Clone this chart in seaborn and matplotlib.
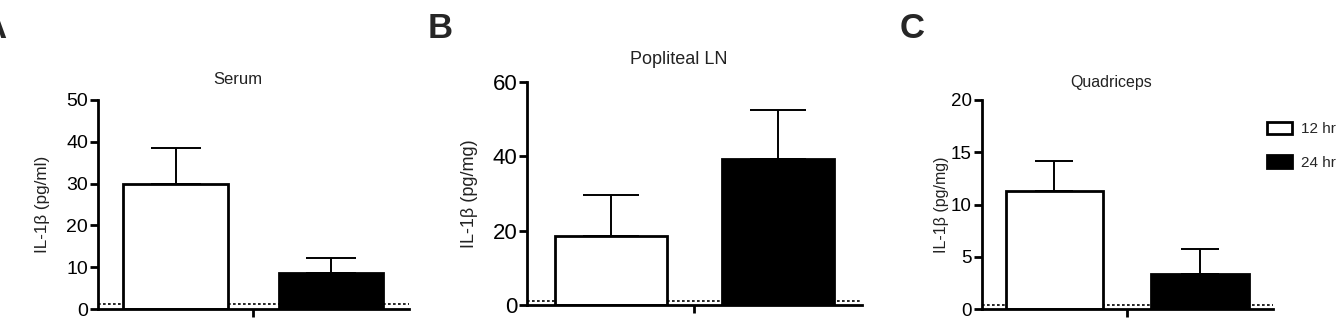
import matplotlib
matplotlib.use("Agg")
import matplotlib.pyplot as plt
from matplotlib.patches import Patch
import seaborn as sns
import pandas as pd

# ---- data ----
times = ["12 hr", "24 hr"]
panel_letters = ["A", "B", "C"]
titles = ["Serum", "Popliteal LN", "Quadriceps"]
ylabels = ["IL-1β (pg/ml)", "IL-1β (pg/mg)", "IL-1β (pg/mg)"]
serum_mean = [29.8, 8.7]
serum_sem = [8.7, 3.4]
pln_mean = [18.6, 39.3]
pln_sem = [11.0, 13.0]
quad_mean = [11.3, 3.4]
quad_sem = [2.9, 2.4]
lod = [1.1, 1.1, 0.4]          # dotted detection-limit lines
ymax = [50, 60, 20]
ystep = [10, 20, 5]

means = [serum_mean, pln_mean, quad_mean]
sems = [serum_sem, pln_sem, quad_sem]

sns.set_theme(style="ticks")
plt.rcParams["font.family"] = ["Liberation Sans", "DejaVu Sans"]

W, H = 1344, 321
fig = plt.figure(figsize=(W / 100, H / 100), dpi=100)

# axes rectangles in pixels: left, right, top(ymax), bottom(0)
rects = [(97.7, 409, 100, 309), (527, 861.7, 81.7, 305), (981.7, 1272.7, 100, 309.3)]
tick_fs = [14, 16, 13.5]
title_fs = [12, 13, 11.5]
ylab_fs = [12.3, 13, 11.5]
caps = [18, 20, 14]
label_x = [6, 428, 900]
ylab_x = [43, 470, 942]
title_y = [80, 60, 83]

for i in range(3):
    l, r, t, b = rects[i]
    ax = fig.add_axes([l / W, 1 - b / H, (r - l) / W, (b - t) / H])
    df = pd.DataFrame({"time": times, "value": means[i]})
    ax.axhline(lod[i], color="black", linestyle=(0, (1.6, 1.4)), lw=1.2, zorder=0.5)
    sns.barplot(data=df, x="time", y="value", hue="time",
                palette=["white", "black"], edgecolor="black", linewidth=2.0,
                width=0.67, legend=False, ax=ax, zorder=2)
    ax.errorbar(x=[0, 1], y=means[i], yerr=[[0, 0], sems[i]], fmt="none",
                ecolor="black", elinewidth=1.4, capsize=caps[i], capthick=1.4, zorder=1)
    ax.set_xlim(-0.5, 1.5)
    ax.set_ylim(0, ymax[i])
    ax.set_yticks(range(0, ymax[i] + 1, ystep[i]))
    ax.set_xticks([0.5])
    ax.set_xticklabels([""])
    ax.set_xlabel("")
    ax.set_ylabel("")
    for s in ["top", "right"]:
        ax.spines[s].set_visible(False)
    for s in ["left", "bottom"]:
        ax.spines[s].set_linewidth(2.0)
        ax.spines[s].set_color("black")
    ax.tick_params(axis="y", length=5.5, width=2.0, labelsize=tick_fs[i], pad=1.5, colors="black")
    ax.tick_params(axis="x", length=6, width=2.0, colors="black")
    fig.text(((l + r) / 2 - 16) / W, 1 - title_y[i] / H, titles[i], ha="center", va="center",
             fontsize=title_fs[i], color="#222222")
    fig.text(ylab_x[i] / W, 1 - (t + b) / 2 / H, ylabels[i], rotation=90,
             ha="center", va="center", fontsize=ylab_fs[i], color="#222222")
    if i == 0:
        fig.text(label_x[i] / W, 1 - 28 / H, panel_letters[i], ha="right", va="center",
                 fontsize=25, fontweight="bold")
    else:
        fig.text(label_x[i] / W, 1 - 28 / H, panel_letters[i], ha="left", va="center",
                 fontsize=25, fontweight="bold")
    if i == 2:
        handles = [Patch(facecolor="white", edgecolor="black", linewidth=2.0),
                   Patch(facecolor="black", edgecolor="black", linewidth=2.0)]
        fig.legend(handles, times, loc="upper left",
                   bbox_to_anchor=(1262 / W, 1 - 117 / H), frameon=False,
                   fontsize=11, handlelength=1.64, handleheight=0.92,
                   handletextpad=0.6, labelspacing=1.25, borderaxespad=0, borderpad=0.3)

fig.savefig("out.png", dpi=100)
